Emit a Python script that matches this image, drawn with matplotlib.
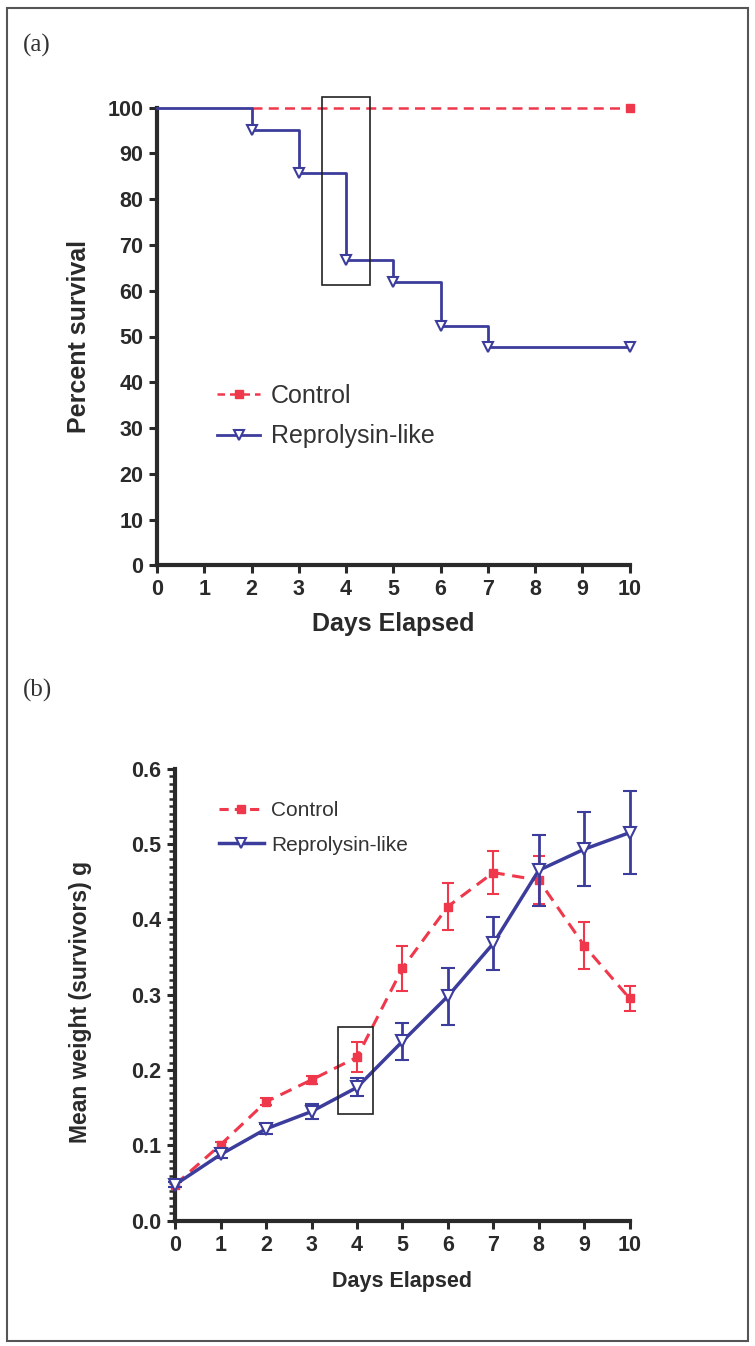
import matplotlib
matplotlib.use('Agg')
import matplotlib.pyplot as plt
from matplotlib.patches import Rectangle
from matplotlib.lines import Line2D
from matplotlib.ticker import MultipleLocator

plt.rcParams['font.family'] = ['Liberation Sans', 'DejaVu Sans']

# panel (a): survival
days_steps = [0, 2, 3, 4, 5, 6, 7, 10]
repro_surv = [100, 95.2, 85.7, 66.7, 61.9, 52.4, 47.6, 47.6]
ctrl_days = [2, 10]
ctrl_surv = [100, 100]

# panel (b): mean weight
days = [0, 1, 2, 3, 4, 5, 6, 7, 8, 9, 10]
ctrl_w = [0.048, 0.101, 0.158, 0.187, 0.217, 0.335, 0.417, 0.462, 0.452, 0.365, 0.295]
ctrl_err = [0.003, 0.004, 0.005, 0.005, 0.020, 0.030, 0.031, 0.029, 0.032, 0.031, 0.016]
repro_w = [0.048, 0.088, 0.122, 0.145, 0.177, 0.238, 0.298, 0.368, 0.465, 0.493, 0.515]
repro_err = [0.003, 0.004, 0.007, 0.010, 0.012, 0.025, 0.038, 0.035, 0.047, 0.049, 0.055]

RED = '#f0384c'
BLUE = '#3c3c9c'
AX = '#2a2a2a'

fig = plt.figure(figsize=(7.55, 13.46), dpi=100)

# outer frame
fig.add_artist(Rectangle((0.009, 0.004), 0.982, 0.990, transform=fig.transFigure,
                         fill=False, edgecolor='#555555', lw=1.5))


def style_axes(ax):
    for s in ['top', 'right']:
        ax.spines[s].set_visible(False)
    for s in ['left', 'bottom']:
        ax.spines[s].set_linewidth(3)
        ax.spines[s].set_color(AX)
    ax.tick_params(which='major', direction='out', length=6, width=2.2, color=AX,
                   labelsize=15.5, pad=4)
    for lab in ax.get_xticklabels() + ax.get_yticklabels():
        lab.set_fontweight('bold')
        lab.set_color(AX)


# ---- panel (a)
ax1 = fig.add_axes([0.208, 0.580, 0.626, 0.340])
ax1.plot(ctrl_days, ctrl_surv, color=RED, ls='--', lw=1.8, dashes=(4, 2.5), marker='s',
         markersize=6, markevery=[1], clip_on=False, zorder=3)
ax1.step(days_steps, repro_surv, where='post', color=BLUE, lw=2, clip_on=False, zorder=4)
ax1.plot(days_steps[1:], repro_surv[1:], ls='none', marker='v', markersize=7,
         markerfacecolor='white', markeredgecolor=BLUE, markeredgewidth=1.5,
         clip_on=False, zorder=5)
ax1.add_patch(Rectangle((3.5, 61.3), 1.0, 41.1, fill=False, edgecolor='#222222',
                        lw=1.2, clip_on=False, zorder=6))
ax1.set_xlim(0, 10)
ax1.set_ylim(0, 100)
ax1.set_xticks(range(0, 11))
ax1.set_yticks(range(0, 101, 10))
style_axes(ax1)
ax1.set_xlabel('Days Elapsed', fontsize=18, fontweight='bold', color=AX)
ax1.set_ylabel('Percent survival', fontsize=18, fontweight='bold', color=AX)
ax1.xaxis.set_label_coords(0.5, -0.103)
ax1.yaxis.set_label_coords(-0.14, 0.5)
h1 = [Line2D([], [], color=RED, ls='--', dashes=(3, 2), lw=1.8, marker='s', markersize=6),
      Line2D([], [], color=BLUE, lw=2, marker='v', markersize=7, markerfacecolor='white',
             markeredgecolor=BLUE, markeredgewidth=1.5)]
leg1 = ax1.legend(h1, ['Control', 'Reprolysin-like'], loc='upper left',
                  bbox_to_anchor=(0.08, 0.445), frameon=False, fontsize=18,
                  handlelength=1.7, handletextpad=0.45, labelspacing=0.65)
for t in leg1.get_texts():
    t.set_color('#333333')

# ---- panel (b)
ax2 = fig.add_axes([0.232, 0.093, 0.602, 0.336])
ax2.errorbar(days, ctrl_w, yerr=ctrl_err, color=RED, ls='--', dashes=(4, 2.5), lw=2.2,
             marker='s', markersize=6, capsize=4, elinewidth=1.5, capthick=1.5,
             clip_on=False, zorder=3)
ax2.errorbar(days, repro_w, yerr=repro_err, color=BLUE, lw=2.5, marker='v', markersize=8,
             markerfacecolor='white', markeredgecolor=BLUE, markeredgewidth=1.5,
             capsize=5, elinewidth=2, capthick=2, clip_on=False, zorder=4)
ax2.add_patch(Rectangle((3.58, 0.142), 0.77, 0.115, fill=False, edgecolor='#222222',
                        lw=1.2, clip_on=False, zorder=6))
ax2.set_xlim(0, 10)
ax2.set_ylim(0, 0.6)
ax2.set_xticks(range(0, 11))
ax2.set_yticks([0.0, 0.1, 0.2, 0.3, 0.4, 0.5, 0.6])
ax2.set_yticklabels(['0.0', '0.1', '0.2', '0.3', '0.4', '0.5', '0.6'])
ax2.yaxis.set_minor_locator(MultipleLocator(0.01))
ax2.tick_params(axis='y', which='minor', direction='out', length=4, width=1.8, color=AX)
style_axes(ax2)
ax2.set_xlabel('Days Elapsed', fontsize=15.5, fontweight='bold', color=AX)
ax2.set_ylabel('Mean weight (survivors) g', fontsize=16.5, fontweight='bold', color=AX)
ax2.xaxis.set_label_coords(0.5, -0.11)
ax2.yaxis.set_label_coords(-0.182, 0.483)
h2 = [Line2D([], [], color=RED, ls='--', dashes=(3, 2), lw=2.2, marker='s', markersize=6),
      Line2D([], [], color=BLUE, lw=2.5, marker='v', markersize=7, markerfacecolor='white',
             markeredgecolor=BLUE, markeredgewidth=1.5)]
leg2 = ax2.legend(h2, ['Control', 'Reprolysin-like'], loc='upper left',
                  bbox_to_anchor=(0.055, 0.97), frameon=False, fontsize=15,
                  handlelength=2.15, handletextpad=0.35, labelspacing=0.75)
for t in leg2.get_texts():
    t.set_color('#333333')

fig.text(0.030, 0.966, '(a)', fontsize=18, family='Liberation Serif', color='#333333',
         va='center')
fig.text(0.030, 0.487, '(b)', fontsize=18, family='Liberation Serif', color='#333333',
         va='center')

fig.savefig('out.png', dpi=100)
plt.close()
